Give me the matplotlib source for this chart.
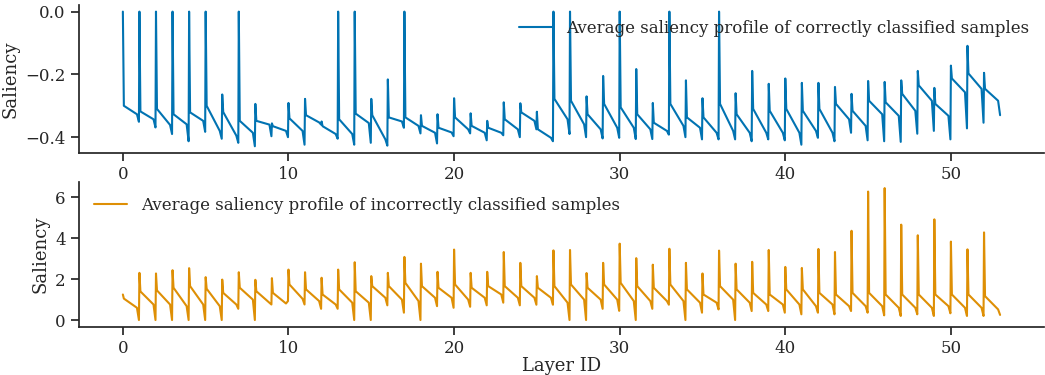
import matplotlib
matplotlib.use("Agg")
import matplotlib.pyplot as plt
import numpy as np
import seaborn as sns

# per-layer key values (layers 0..52)
# correct: peak at layer start, knee after the drop, end of slope, dip before next layer
cor_peak = [0, 0, 0, 0, 0, 0, -0.264, 0, -0.294, -0.356, -0.291, -0.278, -0.35,
            0, 0, -0.278, -0.216, 0, -0.33, -0.327, -0.276, -0.324, -0.348, -0.289,
            -0.292, -0.319, 0, 0, -0.27, -0.205, 0, -0.183, -0.291, 0, -0.219,
            -0.276, 0, -0.26, -0.189, -0.23, -0.213, -0.227, -0.227, -0.24, -0.262,
            -0.221, -0.224, -0.219, -0.189, -0.243, -0.172, -0.109, -0.195]
cor_knee = [-0.30, -0.318, -0.31, -0.327, -0.321, -0.30, -0.32, -0.348, -0.348, -0.365,
            -0.34, -0.33, -0.365, -0.343, -0.325, -0.33, -0.337, -0.337, -0.364, -0.37,
            -0.337, -0.364, -0.37, -0.343, -0.321, -0.375, -0.278, -0.284, -0.327,
            -0.294, -0.305, -0.327, -0.354, -0.294, -0.337, -0.337, -0.294, -0.327,
            -0.31, -0.316, -0.31, -0.316, -0.31, -0.294, -0.316, -0.284, -0.289,
            -0.262, -0.235, -0.294, -0.213, -0.197, -0.246]
cor_end = [-0.327, -0.343, -0.361, -0.359, -0.348, -0.38, -0.395, -0.386, -0.36, -0.38,
           -0.38, -0.353, -0.39, -0.39, -0.355, -0.407, -0.35, -0.364, -0.386, -0.385,
           -0.375, -0.386, -0.386, -0.375, -0.348, -0.402, -0.343, -0.359, -0.375,
           -0.37, -0.37, -0.375, -0.38, -0.364, -0.37, -0.386, -0.38, -0.386, -0.386,
           -0.386, -0.386, -0.38, -0.386, -0.343, -0.364, -0.327, -0.332, -0.316,
           -0.284, -0.332, -0.257, -0.246, -0.284]
cor_dip = [-0.351, -0.369, -0.39, -0.413, -0.383, -0.405, -0.418, -0.429, -0.397, -0.40,
           -0.424, -0.36, -0.405, -0.424, -0.418, -0.427, -0.37, -0.388, -0.42, -0.397,
           -0.388, -0.41, -0.394, -0.40, -0.375, -0.413, -0.39, -0.40, -0.404, -0.402,
           -0.406, -0.406, -0.392, -0.40, -0.407, -0.407, -0.407, -0.413, -0.407,
           -0.41, -0.424, -0.402, -0.413, -0.386, -0.41, -0.413, -0.415, -0.389,
           -0.38, -0.407, -0.372, -0.354, -0.33]

inc_peak = [1.25, 2.31, 2.28, 2.44, 2.54, 2.1, 1.98, 2.34, 1.97, 2.05, 2.47, 2.34, 2.07,
            2.47, 2.83, 2.15, 2.31, 3.09, 2.76, 2.36, 3.45, 2.31, 2.36, 3.33, 2.8, 2.15,
            3.41, 3.43, 2.3, 2.8, 3.74, 3.03, 2.71, 3.49, 2.8, 2.28, 3.4, 2.76, 2.85,
            3.43, 2.6, 2.55, 3.48, 3.33, 4.37, 6.29, 6.46, 4.67, 4.15, 4.93, 3.84,
            3.46, 4.29]
inc_knee = [1.05, 1.4, 1.45, 1.58, 1.66, 1.53, 1.33, 1.58, 1.41, 1.33, 1.74, 1.5, 1.25,
            1.5, 1.41, 1.66, 1.66, 1.82, 1.66, 1.58, 1.74, 1.58, 1.66, 1.66, 1.66, 1.58,
            1.66, 1.74, 1.58, 1.74, 1.82, 1.66, 1.58, 1.74, 1.5, 1.25, 1.66, 1.5, 1.33,
            1.25, 1.5, 1.5, 1.33, 1.25, 1.33, 1.33, 1.25, 1.25, 1.25, 1.25, 1.25, 1.25,
            1.17]
inc_end = [0.6, 0.76, 0.76, 0.68, 0.76, 0.68, 0.76, 1.0, 0.85, 0.81, 1.04, 0.93, 0.76,
           0.85, 0.85, 1.09, 1.0, 0.93, 1.09, 1.09, 1.0, 1.09, 1.25, 1.09, 1.09, 1.09,
           0.85, 1.0, 1.0, 1.0, 0.93, 0.93, 0.93, 0.93, 0.85, 0.85, 1.0, 0.85, 0.76,
           0.76, 0.76, 0.68, 0.76, 0.68, 0.68, 0.68, 0.6, 0.6, 0.6, 0.68, 0.6, 0.6, 0.52]
inc_dip = [0, 0, 0, 0, 0, 0, 0.55, 0, 0.76, 0.93, 0.76, 0.55, 0.55, 0, 0, 0.72, 0.36,
           0, 0.68, 0.6, 0.65, 0.72, 0.85, 0.72, 0.75, 0.75, 0, 0, 0.55, 0.45, 0, 0.55,
           0.75, 0, 0.36, 0.52, 0, 0.44, 0.44, 0.36, 0.28, 0.36, 0.28, 0.44, 0.36, 0.23,
           0.2, 0.28, 0.2, 0.33, 0.2, 0.2, 0.25]

n_layers = len(cor_peak)
frac = np.array([0.0, 0.06, 0.85, 0.97])  # where the key values sit inside a layer


def profile(peak, knee, end, dip):
    xs, ys = [], []
    for i in range(n_layers):
        xs.extend(i + frac)
        ys.extend([peak[i], knee[i], end[i], dip[i]])
    return np.array(xs), np.array(ys)


x_c, y_c = profile(cor_peak, cor_knee, cor_end, cor_dip)
x_i, y_i = profile(inc_peak, inc_knee, inc_end, inc_dip)

sns.set_theme(style="ticks", palette="colorblind")
plt.rcParams['font.family'] = ['DejaVu Serif']
pal = sns.color_palette("colorblind")

fig = plt.figure(figsize=(10.45, 3.75), dpi=100)
ax1 = fig.add_axes([0.0756, 0.592, 0.9234, 0.395])
ax2 = fig.add_axes([0.0756, 0.129, 0.9234, 0.387])

ax1.plot(x_c, y_c, color=pal[0], lw=1.5,
         label="Average saliency profile of correctly classified samples")
ax2.plot(x_i, y_i, color=pal[1], lw=1.5,
         label="Average saliency profile of incorrectly classified samples")

for ax in (ax1, ax2):
    ax.set_ylabel("Saliency", fontsize=13)
    ax.tick_params(labelsize=12)
    sns.despine(ax=ax)

ax1.set_yticks([0.0, -0.2, -0.4])
ax2.set_yticks([0, 2, 4, 6])
ax2.set_xlabel("Layer ID", fontsize=13, labelpad=0)

ax1.legend(loc="upper right", frameon=False, fontsize=12)
ax2.legend(loc="upper left", frameon=False, fontsize=12)

fig.savefig("out.png", dpi=100)
